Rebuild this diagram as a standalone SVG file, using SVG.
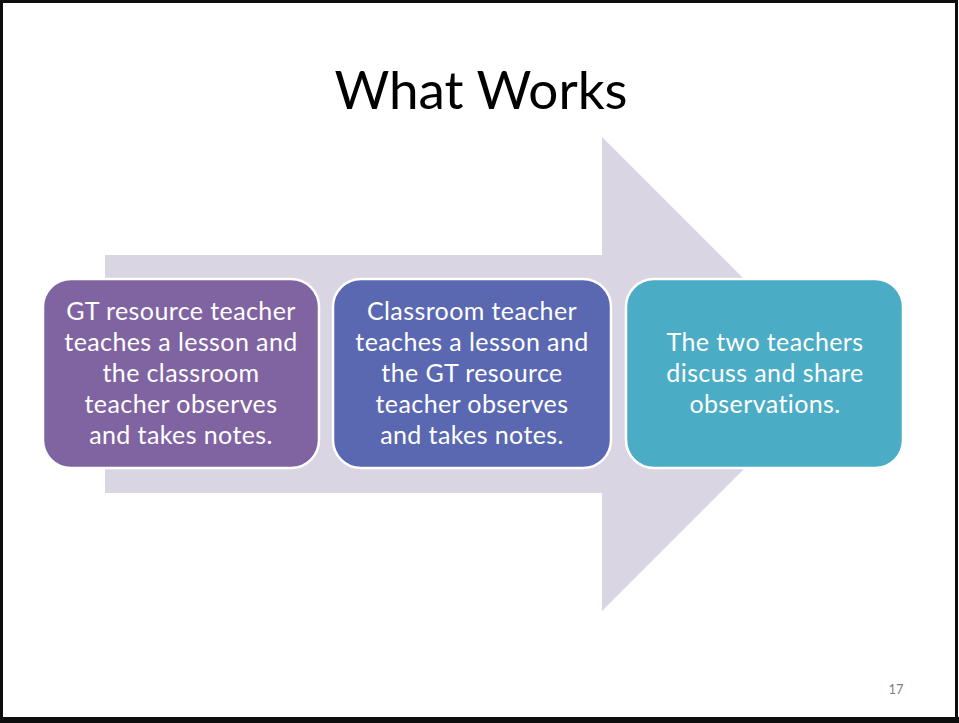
<svg xmlns="http://www.w3.org/2000/svg" width="959" height="723" viewBox="0 0 959 723">
  <style>
    .step { stroke: #ffffff; stroke-width: 2.5; }
    .label { font-family: Lato, "Open Sans", sans-serif; font-size: 25px; letter-spacing: 0.4px; fill: #ffffff; text-anchor: middle; }
    .title { font-family: Lato, "Open Sans", sans-serif; font-size: 53px; fill: #000000; text-anchor: middle; }
    .pageno { font-family: Lato, "Open Sans", sans-serif; font-size: 13px; fill: #7f7f7f; text-anchor: middle; }
  </style>
  <!-- slide background and frame -->
  <rect x="0" y="0" width="959" height="723" fill="#ffffff"/>
  <rect x="1.5" y="1.5" width="955" height="718" fill="none" stroke="#0d0d0d" stroke-width="3"/>
  <rect x="0" y="717" width="959" height="6" fill="#0d0d0d"/>

  <text class="title" x="481" y="109">What Works</text>

  <!-- background process arrow -->
  <g id="arrow">
    <polygon points="105,255 602,255 602,137 839,374 602,611 602,493 105,493" fill="#d9d5e3"/>
  </g>

  <g id="step1">
    <rect class="step" x="43" y="279" width="276" height="189" rx="28" fill="#8064a2"/>
    <text class="label" x="181" y="320">GT resource teacher</text>
    <text class="label" x="181" y="351">teaches a lesson and</text>
    <text class="label" x="181" y="382">the classroom</text>
    <text class="label" x="181" y="413">teacher observes</text>
    <text class="label" x="181" y="444">and takes notes.</text>
  </g>

  <g id="step2">
    <rect class="step" x="333" y="279" width="278" height="189" rx="28" fill="#5a68b2"/>
    <text class="label" x="472" y="320">Classroom teacher</text>
    <text class="label" x="472" y="351">teaches a lesson and</text>
    <text class="label" x="472" y="382">the GT resource</text>
    <text class="label" x="472" y="413">teacher observes</text>
    <text class="label" x="472" y="444">and takes notes.</text>
  </g>

  <g id="step3">
    <rect class="step" x="626" y="279" width="277" height="189" rx="28" fill="#4bacc6"/>
    <text class="label" x="765" y="351">The two teachers</text>
    <text class="label" x="765" y="382">discuss and share</text>
    <text class="label" x="765" y="413">observations.</text>
  </g>

  <g id="connectors"></g>

  <text class="pageno" x="896" y="694">17</text>
</svg>
